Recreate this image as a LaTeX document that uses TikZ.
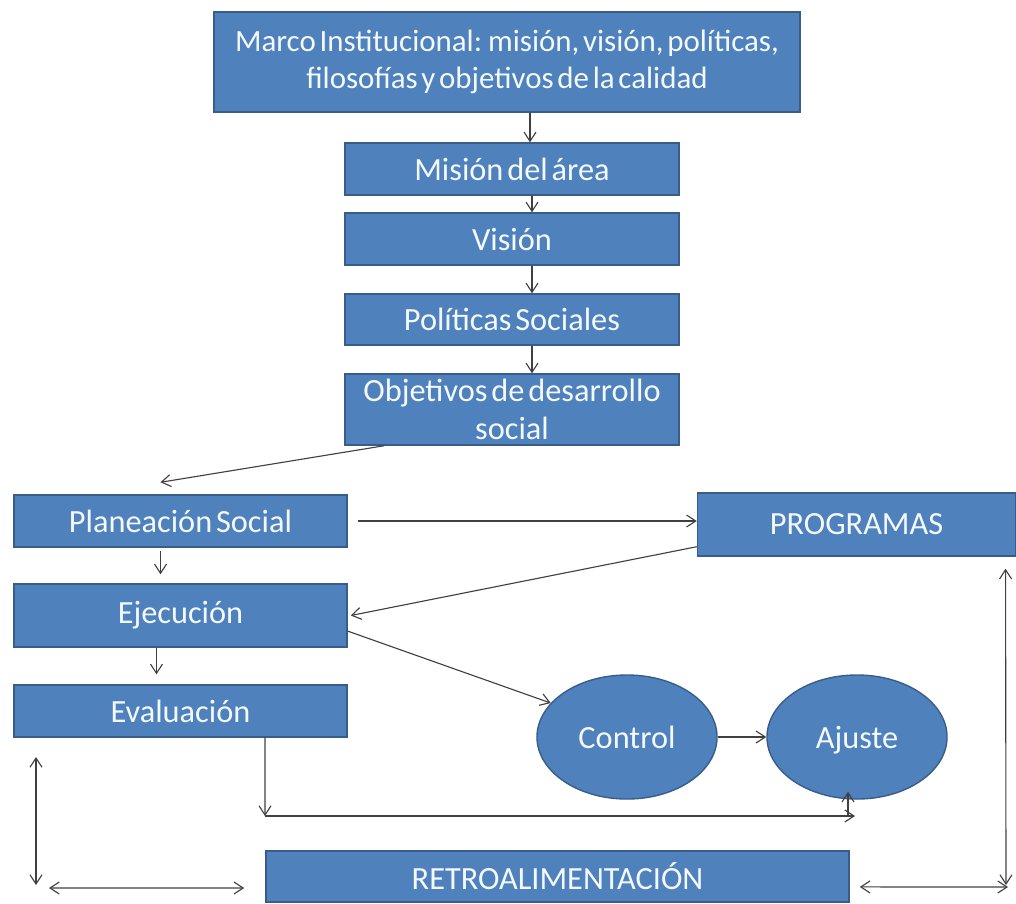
\documentclass[tikz,border=0pt]{standalone}
\usepackage{fontspec}
\setmainfont{Carlito}
\usetikzlibrary{arrows.meta,shapes.geometric}
\definecolor{boxfill}{HTML}{4F81BD}
\definecolor{boxline}{HTML}{385D8A}
\definecolor{arrcol}{HTML}{404040}
\definecolor{txtcol}{HTML}{F4F8FF}
\newcommand\tightspacing{\spaceskip=0.12em plus 0.05em\relax}
\begin{document}
\begin{tikzpicture}[x=0.025cm,y=-0.025cm,
  box/.style={rectangle, fill=boxfill, draw=boxline, line width=1pt, text=txtcol, align=center,
    font=\fontsize{23}{26.5}\selectfont\tightspacing, inner sep=0pt},
  oval/.style={ellipse, fill=boxfill, draw=boxline, line width=1pt, text=txtcol,
    font=\fontsize{23}{26.5}\selectfont, inner sep=0pt, minimum width=4.5cm, minimum height=3.1cm},
  arr/.style={draw=arrcol, line width=0.8pt, -{Straight Barb[length=2.3mm,width=3mm]}},
  dbl/.style={draw=arrcol, line width=0.8pt, {Straight Barb[length=2.3mm,width=3mm]}-{Straight Barb[length=2.3mm,width=3mm]}}
]
\useasboundingbox (0,0) rectangle (1016,903);

\node[box, minimum width=14.65cm, minimum height=2.5cm, font=\fontsize{22}{26.5}\selectfont\tightspacing] (marco) at (507,62)
  {Marco Institucional: misión, visión, políticas,\\ filosofías y objetivos de la calidad};
\node[box, minimum width=8.35cm, minimum height=1.3cm] (mision) at (512,169) {Misión del área};
\node[box, minimum width=8.35cm, minimum height=1.3cm] (vision) at (512,239) {Visión};
\node[box, minimum width=8.35cm, minimum height=1.275cm] (politicas) at (512,319.5) {Políticas Sociales};
\node[box, minimum width=8.35cm, minimum height=1.775cm] (objetivos) at (512,409.5) {Objetivos de desarrollo\\ social};
\node[box, minimum width=8.325cm, minimum height=1.3cm] (planeacion) at (180.5,521) {Planeación Social};
\node[box, minimum width=7.95cm, minimum height=1.575cm] (programas) at (856.5,524.5) {PROGRAMAS};
\node[box, minimum width=8.325cm, minimum height=1.575cm] (ejecucion) at (180.5,615.5) {Ejecución};
\node[box, minimum width=8.325cm, minimum height=1.3cm] (evaluacion) at (180.5,711) {Evaluación};
\node[oval] (control) at (627,737) {Control};
\node[oval, text depth=0pt] (ajuste) at (857,737) {Ajuste};
\node[box, minimum width=14.575cm, minimum height=1.275cm] (retro) at (557.5,876.5) {RETROALIMENTACIÓN};

\coordinate (c1) at (265,816);
\coordinate (c2) at (855,816);
\coordinate (c3) at (848,816);
\coordinate (l1) at (36,757);
\coordinate (l2) at (36,885);
\coordinate (l3) at (49,888);
\coordinate (r2) at (1006,885);
\coordinate (r3) at (1008,887);

\draw[arr] ([xshift=0.45cm]mision.north |- marco.south) -- ([xshift=0.45cm]mision.north);
\draw[arr] ([xshift=0.5cm]mision.south) -- ([xshift=0.5cm]vision.north);
\draw[arr] ([xshift=0.5cm]vision.south) -- ([xshift=0.5cm]politicas.north);
\draw[arr] ([xshift=0.5cm]politicas.south) -- ([xshift=0.5cm]objetivos.north);
\draw[arr] ([xshift=1cm]objetivos.south west) -- ([xshift=-0.5cm,yshift=0.3cm]planeacion.north);
\draw[arr] ([xshift=0.25cm]planeacion.east) -- (planeacion.east -| programas.west);
\draw[arr] ([xshift=-0.5cm,yshift=-0.075cm]planeacion.south) -- ([xshift=-0.5cm,yshift=0.225cm]ejecucion.north);
\draw[arr] ([yshift=0.25cm]programas.south west) -- ([xshift=0.075cm]ejecucion.east);
\draw[arr] ([xshift=-0.6cm]ejecucion.south) -- ([xshift=-0.6cm,yshift=0.25cm]evaluacion.north);
\draw[arr] ([yshift=-0.39cm]ejecucion.east) -- (control.156);
\draw[arr] (control.east) -- (ajuste.west);
\draw[arr] ([xshift=2.1125cm]evaluacion.south) -- (c1);
\draw[arr] (c1) -- (c2);
\draw[arr] (c3) -- ([yshift=0.2cm]c3 |- ajuste.south);
\draw[dbl] (l1) -- (l2);
\draw[dbl] (l3) -- ([xshift=-0.525cm,yshift=-0.2875cm]retro.west);
\draw[dbl] ([xshift=3.725cm,yshift=-0.3cm]programas.south) -- (r2);
\draw[dbl] ([xshift=0.25cm,yshift=-0.26cm]retro.east) -- (r3);
\end{tikzpicture}
\end{document}
